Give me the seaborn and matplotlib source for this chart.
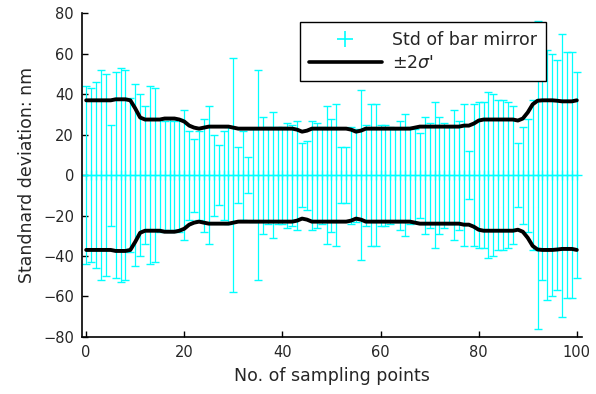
import numpy as np
import pandas as pd
import matplotlib
matplotlib.use("Agg")
import matplotlib.pyplot as plt
from matplotlib.lines import Line2D
import seaborn as sns

# sampling points and half-length of each error bar (nm)
points = list(range(101))
std_err = [44, 43, 46, 52, 50, 25, 51, 53, 52, 38,
           45, 40, 34, 44, 43, 28, 27, 28, 27, 28,
           32, 22, 18, 22, 28, 34, 20, 15, 22, 24,
           58, 14, 22, 9, 23, 52, 29, 24, 31, 24,
           24, 26, 25, 27, 16, 17, 27, 26, 24, 34,
           28, 35, 14, 14, 24, 23, 42, 25, 35, 35,
           25, 25, 24, 23, 27, 30, 24, 23, 21, 29,
           26, 36, 29, 26, 24, 32, 27, 35, 12, 35,
           36, 36, 41, 40, 37, 37, 36, 34, 16, 24,
           28, 37, 76, 52, 62, 60, 57, 70, 61, 61,
           51]
# +2 sigma' envelope
sigma_up = [37, 37, 37, 37, 37, 37, 37.5, 37.5, 37.5, 37,
            33, 28.5, 27.5, 27.5, 27.5, 27.5, 28, 28, 28, 27.5,
            26.5, 24.5, 23.5, 23, 23.5, 24, 24, 24, 24, 24,
            23.5, 23, 23, 23, 23, 23, 23, 23, 23, 23,
            23, 23, 23, 22.5, 21.5, 22, 23, 23, 23, 23,
            23, 23, 23, 23, 22.5, 21.5, 22, 23, 23, 23,
            23, 23, 23, 23, 23, 23, 23, 23.5, 24, 24,
            24, 24, 24, 24, 24, 24, 24, 24.5, 24.5, 25.5,
            27, 27.5, 27.5, 27.5, 27.5, 27.5, 27.5, 27.5, 27, 28,
            31, 35, 36.8, 37, 37, 37, 36.8, 36.5, 36.5, 36.5,
            37]
sigma_dn = [-v for v in sigma_up]

df = pd.DataFrame({"x": points, "err": std_err, "up": sigma_up, "dn": sigma_dn})

sns.set_style("ticks")
plt.rcParams["font.family"] = ["DejaVu Sans"]
plt.rcParams["xtick.direction"] = "in"
plt.rcParams["ytick.direction"] = "in"

fig = plt.figure(figsize=(5.96, 3.94), dpi=100)
ax = fig.add_axes([0.138, 0.145, 0.838, 0.821])

ax.errorbar(df["x"], np.zeros(len(df)), yerr=df["err"], fmt="+", color="#00FFFF",
            ecolor="#00FFFF", elinewidth=0.9, capsize=3, capthick=0.9,
            markersize=7, markeredgewidth=1.0, zorder=2)
sns.lineplot(data=df, x="x", y="up", color="black", linewidth=2.8, ax=ax, zorder=3)
sns.lineplot(data=df, x="x", y="dn", color="black", linewidth=2.8, ax=ax, zorder=3)

ax.set_xlim(-0.8, 101)
ax.set_ylim(-80, 80)
ax.set_xticks(range(0, 101, 20))
ax.set_yticks(range(-80, 81, 20))
ax.tick_params(labelsize=10.5, length=4, width=1, color="black", pad=6)
ax.set_xlabel("No. of sampling points", fontsize=12.5, labelpad=5)
ax.set_ylabel("Standnard deviation: nm", fontsize=12.5, labelpad=5)
for s in ["top", "right"]:
    ax.spines[s].set_visible(False)
for s in ["left", "bottom"]:
    ax.spines[s].set_color("black")
    ax.spines[s].set_linewidth(1.2)

handles = [Line2D([], [], color="#00FFFF", marker="+", linestyle="none",
                  markersize=11, markeredgewidth=1.2),
           Line2D([], [], color="black", linewidth=2.6)]
labels = ["Std of bar mirror", "$\\pm 2\\sigma$'"]
leg = ax.legend(handles, labels, loc="upper left", bbox_to_anchor=(0.436, 0.973),
                fontsize=12.5, frameon=True, fancybox=False, handlelength=4.2,
                borderpad=0.5, labelspacing=0.3, handletextpad=0.6,
                borderaxespad=0)
leg.get_frame().set_edgecolor("black")
leg.get_frame().set_linewidth(1.0)
leg.get_frame().set_alpha(1)

plt.savefig("out.png", dpi=100)
plt.close()
